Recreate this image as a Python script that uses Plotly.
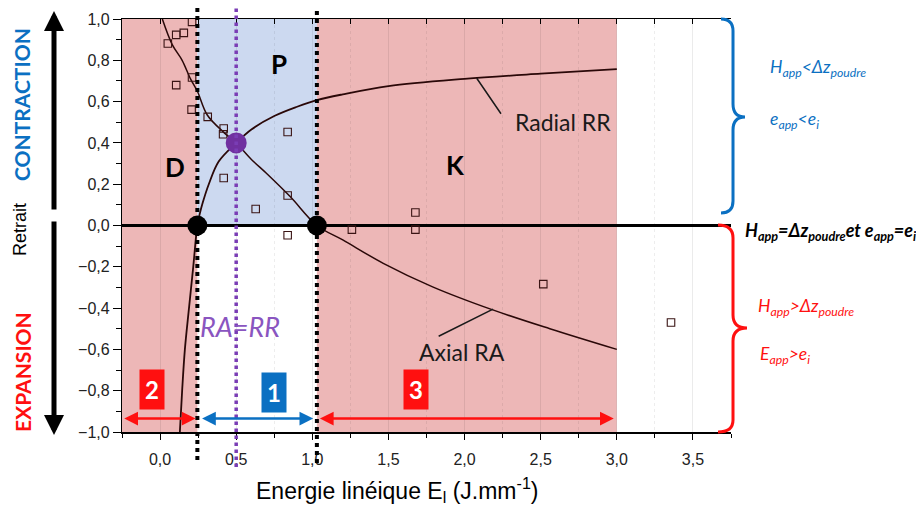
import plotly.graph_objects as go

# ---------------- data ----------------
radial_x = [0.13, 0.145, 0.163, 0.19, 0.218, 0.245, 0.262, 0.28, 0.32, 0.385, 0.5, 0.6, 0.75, 0.9, 1.03, 1.2, 1.5, 2.0, 2.5, 3.0]
radial_y = [-1.0, -0.8, -0.6, -0.4, -0.2, 0.0, 0.06, 0.11, 0.2, 0.31, 0.4, 0.465, 0.53, 0.575, 0.607, 0.635, 0.675, 0.71, 0.735, 0.757]

axial_x = [0.015, 0.08, 0.145, 0.2, 0.245, 0.31, 0.42, 0.5, 0.6, 0.7, 0.856, 1.03, 1.2, 1.466, 1.79, 2.19, 2.56, 3.0]
axial_y = [1.0, 0.876, 0.8, 0.71, 0.65, 0.535, 0.45, 0.4, 0.32, 0.252, 0.139, 0.0, -0.07, -0.183, -0.297, -0.41, -0.50, -0.60]

meas_x = [0.21, 0.156, 0.106, 0.051, 0.21, 0.106, 0.207, 0.313, 0.418, 0.414, 0.838, 0.418, 0.838, 0.628, 0.838, 1.26, 1.677, 1.677, 2.517, 3.356]
meas_y = [0.986, 0.933, 0.923, 0.881, 0.717, 0.68, 0.561, 0.526, 0.47, 0.442, 0.453, 0.23, 0.145, 0.08, -0.047, -0.02, 0.063, -0.02, -0.284, -0.47]

transition_x = [0.245, 1.03]       # black points / dotted lines
transition_y = [0.0, 0.0]
equal_x = [0.5]                    # RA = RR point
equal_y = [0.4]

region_bounds = [-0.25, 0.245, 1.03, 3.0]
region_labels = ["D", "P", "K"]
zone_labels = ["2", "1", "3"]

x_range = [-0.25, 3.75]
y_range = [-1.0, 1.0]

# ---------------- layout helpers ----------------
OFF = 8                      # page body margin
W, H = 924 - OFF, 508 - OFF
L, R, T, B = 122, 731, 19, 432   # plot area in page pixels


def px(xp):
    return (xp - L) / (R - L)


def py(yp):
    return (B - yp) / (B - T)


RED_FILL = "#EDB7B7"
BLUE_FILL = "#CCD9F0"
BLUE = "#0B70C2"
RED = "#FF1010"
PURPLE = "#7030A0"
TXT = "Lato"

fig = go.Figure()

# curves
fig.add_trace(go.Scatter(x=radial_x, y=radial_y, mode="lines", line=dict(color="#2a0808", width=1.8, shape="spline"), hoverinfo="skip"))
fig.add_trace(go.Scatter(x=axial_x, y=axial_y, mode="lines", line=dict(color="#2a0808", width=1.5, shape="spline"), hoverinfo="skip"))
# measurements
fig.add_trace(go.Scatter(x=meas_x, y=meas_y, mode="markers",
                         marker=dict(symbol="square-open", size=7.5, color="#3a1414", line=dict(width=1.1))))
# key points
fig.add_trace(go.Scatter(x=transition_x, y=transition_y, mode="markers", marker=dict(color="black", size=20), cliponaxis=False))
fig.add_trace(go.Scatter(x=equal_x, y=equal_y, mode="markers", marker=dict(color=PURPLE, size=21), cliponaxis=False))
# dummy trace for top axis
fig.add_trace(go.Scatter(x=[x_range[0]], y=[0], xaxis="x2", mode="markers", marker=dict(opacity=0), hoverinfo="skip"))

# shaded regions
fig.add_shape(type="rect", xref="x", yref="y", x0=region_bounds[0], x1=region_bounds[1], y0=-1, y1=1,
              fillcolor=RED_FILL, line_width=0, layer="below")
fig.add_shape(type="rect", xref="x", yref="y", x0=region_bounds[1], x1=region_bounds[2], y0=0, y1=1,
              fillcolor=BLUE_FILL, line_width=0, layer="below")
fig.add_shape(type="rect", xref="x", yref="y", x0=region_bounds[2], x1=region_bounds[3], y0=-1, y1=1,
              fillcolor=RED_FILL, line_width=0, layer="below")

# dotted vertical lines
fig.add_shape(type="line", xref="x", yref="paper", x0=transition_x[0], x1=transition_x[0], y0=py(460), y1=py(3),
              line=dict(color="black", width=4, dash="dot"))
fig.add_shape(type="line", xref="x", yref="paper", x0=transition_x[1], x1=transition_x[1], y0=py(463), y1=py(3),
              line=dict(color="black", width=4, dash="dot"))
fig.add_shape(type="line", xref="x", yref="paper", x0=equal_x[0], x1=equal_x[0], y0=py(467), y1=py(3),
              line=dict(color="#7A3DB5", width=3.5, dash="dot"))


# braces (pixel geometry converted to paper)
def brace(pts_cmds):
    out = []
    for c in pts_cmds:
        if isinstance(c, str):
            out.append(c)
        else:
            out.append(f"{px(c[0]):.4f},{py(c[1]):.4f}")
    return " ".join(out)


blue_brace = brace(["M", (721, 19), "Q", (733, 19), (733, 31), "L", (733, 104), "Q", (733, 117), (745, 117),
                    "Q", (733, 117), (733, 130), "L", (733, 201), "Q", (733, 213), (721, 213)])
red_brace = brace(["M", (718, 225), "Q", (733, 225), (733, 238), "L", (733, 315), "Q", (733, 328), (747, 328),
                   "Q", (733, 328), (733, 341), "L", (733, 420), "Q", (733, 432), (718, 432)])
fig.add_shape(type="path", xref="paper", yref="paper", path=blue_brace, line=dict(color=BLUE, width=3))
fig.add_shape(type="path", xref="paper", yref="paper", path=red_brace, line=dict(color=RED, width=3))

ann = []
# region letters
for lab, (xx, yy) in zip(region_labels, [(0.095, 0.283), (0.784, 0.78), (1.938, 0.292)]):
    ann.append(dict(x=xx, y=yy, xref="x", yref="y", text=f"<b>{lab}</b>", showarrow=False,
                    font=dict(family=TXT, size=26, color="black")))

# curve labels with leader lines
ann.append(dict(x=2.08, y=0.713, ax=2.246, ay=0.534, xref="x", yref="y", axref="x", ayref="y", text="",
                showarrow=True, arrowhead=0, arrowwidth=1.5, arrowcolor="#1a1a1a"))
ann.append(dict(x=2.646, y=0.50, xref="x", yref="y", text="Radial RR", showarrow=False,
                font=dict(family=TXT, size=23, color="#1a1a1a")))
ann.append(dict(x=2.187, y=-0.405, ax=1.82, ay=-0.54, xref="x", yref="y", axref="x", ayref="y", text="",
                showarrow=True, arrowhead=0, arrowwidth=1.5, arrowcolor="#1a1a1a"))
ann.append(dict(x=1.98, y=-0.613, xref="x", yref="y", text="Axial RA", showarrow=False,
                font=dict(family=TXT, size=23, color="#1a1a1a")))
ann.append(dict(x=0.528, y=-0.49, xref="x", yref="y", text="<i>RA=RR</i>", showarrow=False,
                font=dict(family=TXT, size=27, color="#8A55C0")))

# zone double arrows
arrow_spans = [(region_bounds[0] + 0.005, 0.233, RED), (0.266, 1.006, BLUE), (1.04, 2.98, RED)]
for x0, x1, col in arrow_spans:
    ann.append(dict(x=x1, y=-0.935, ax=x0, ay=-0.935, xref="x", yref="y", axref="x", ayref="y", text="",
                    showarrow=True, arrowhead=2, arrowside="end+start", arrowsize=1.1, arrowwidth=2.5, arrowcolor=col))
for lab, (xx, yy), col in zip(zone_labels, [(-0.053, -0.795), (0.746, -0.807), (1.68, -0.795)], [RED, BLUE, RED]):
    ann.append(dict(x=xx, y=yy, xref="x", yref="y", text=f"<b>{lab}</b>", showarrow=False, bgcolor=col,
                    borderpad=5, font=dict(family=TXT, size=24, color="white")))


def pann(xp, yp, text, **kw):
    d = dict(x=px(xp), y=py(yp), xref="paper", yref="paper", text=text, showarrow=False,
             xanchor="center", yanchor="middle")
    d.update(kw)
    ann.append(d)


# left side
pann(54, 11, "", showarrow=True, ax=0, ay=200, arrowhead=2, arrowsize=0.8, arrowwidth=5, arrowcolor="black")
pann(54, 435, "", showarrow=True, ax=0, ay=-215, arrowhead=2, arrowsize=0.8, arrowwidth=5, arrowcolor="black")
pann(22, 105, "<b>CONTRACTION</b>", textangle=-90, font=dict(family=TXT, size=21, color=BLUE))
pann(20, 230, "Retrait", textangle=-90, font=dict(family="Liberation Sans", size=18, color="black"))
pann(22, 372, "<b>EXPANSION</b>", textangle=-90, font=dict(family=TXT, size=21, color=RED))

# right side
pann(768, 68, "<i>H<sub>app</sub>&lt;Δz<sub>poudre</sub></i>", xanchor="left",
     font=dict(family=TXT, size=17.5, color=BLUE))
pann(768, 120, "<i>e<sub>app</sub>&lt;e<sub>i</sub></i>", xanchor="left",
     font=dict(family=TXT, size=17.5, color=BLUE))
pann(743, 231, "<b><i>H<sub>app</sub>=Δz<sub>poudre</sub>et e<sub>app</sub>=e<sub>i</sub></i></b>", xanchor="left",
     font=dict(family=TXT, size=18, color="black"))
pann(756, 307, "<i>H<sub>app</sub>&gt;Δz<sub>poudre</sub></i>", xanchor="left",
     font=dict(family=TXT, size=17.5, color=RED))
pann(758, 355, "<i>E<sub>app</sub>&gt;e<sub>i</sub></i>", xanchor="left",
     font=dict(family=TXT, size=17.5, color=RED))

# x-axis title
pann(397, 490, "Energie linéique E<sub>l</sub> (J.mm<sup>-1</sup>)",
     font=dict(family="Liberation Sans", size=23, color="black"))

fig.update_layout(
    width=W, height=H,
    margin=dict(l=L - OFF, r=(924 - OFF) - (R - OFF), t=T - OFF, b=(508 - OFF) - (B - OFF), autoexpand=False),
    paper_bgcolor="white", plot_bgcolor="white",
    showlegend=False,
    separators=", ",
    font=dict(family="Liberation Sans", size=16, color="#222"),
    annotations=ann,
    xaxis=dict(range=x_range, tick0=0, dtick=0.5, tickformat=".1f", showline=True, linecolor="black", linewidth=1.5,
               ticks="outside", ticklen=6, tickcolor="black", ticklabelstandoff=6,
               showgrid=True, gridcolor="rgba(0,0,0,0.08)", gridwidth=1,
               zeroline=False,
               minor=dict(dtick=0.25, ticks="outside", ticklen=4, tickcolor="black", showgrid=True,
                          gridcolor="rgba(0,0,0,0.07)", griddash="dot")),
    xaxis2=dict(range=x_range, overlaying="x", side="top", showline=True, linecolor="black", linewidth=1.2,
                ticks="inside", tick0=0, dtick=0.25, ticklen=5, tickcolor="black", showticklabels=False,
                showgrid=False, zeroline=False),
    yaxis=dict(range=y_range, tick0=-1, dtick=0.2, tickformat=".1f", showline=True, linecolor="black", linewidth=1.2,
               ticks="outside", ticklen=8, tickcolor="black", showgrid=False, zeroline=True,
               zerolinecolor="black", zerolinewidth=3,
               minor=dict(dtick=0.1, ticks="outside", ticklen=5, tickcolor="black")),
)

fig.write_html("out.html")
